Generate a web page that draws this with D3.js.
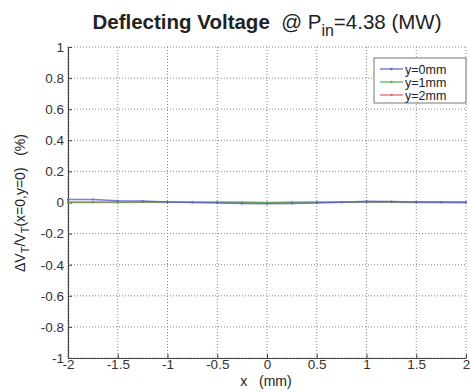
<!DOCTYPE html>
<html>
<head>
<meta charset="utf-8">
<script src="https://cdn.jsdelivr.net/npm/d3@7"></script>
<style>
  body { margin: 0; background: #fff; }
  svg text { font-family: "Liberation Sans", Arial, sans-serif; fill: #222; }
</style>
</head>
<body>
<div id="chart"></div>
<script>
// x positions (mm)
var xs = [-2, -1.75, -1.5, -1.25, -1, -0.75, -0.5, -0.25, 0, 0.25, 0.5, 0.75, 1, 1.25, 1.5, 1.75, 2];
// dV/V (%) for each y offset
var y0mm = [0.02, 0.02, 0.012, 0.01, 0.004, 0.0, -0.004, -0.006, -0.008, -0.006, -0.004, 0.002, 0.008, 0.006, 0.003, 0.001, 0.0];
var y1mm = [0.004, 0.004, 0.003, 0.003, 0.002, 0.002, 0.001, 0.001, 0.0, 0.001, 0.002, 0.003, 0.004, 0.003, 0.003, 0.003, 0.003];
var y2mm = [0.0, 0.0, 0.0, 0.001, 0.002, 0.002, 0.001, 0.0, -0.001, 0.0, 0.001, 0.002, 0.002, 0.001, 0.0, 0.0, 0.0];
var seriesNames = ["y=0mm", "y=1mm", "y=2mm"];
var seriesColors = ["#5a5ad8", "#4fae4f", "#e06060"];
var xTicks = [-2, -1.5, -1, -0.5, 0, 0.5, 1, 1.5, 2];
var yTicks = [-1, -0.8, -0.6, -0.4, -0.2, 0, 0.2, 0.4, 0.6, 0.8, 1];

var W = 470, H = 392;
var pL = 68, pR = 466, pT = 47, pB = 358;

var svg = d3.select("#chart").append("svg").attr("width", W).attr("height", H);

var x = d3.scaleLinear().domain([-2, 2]).range([pL, pR]);
var y = d3.scaleLinear().domain([-1, 1]).range([pB, pT]);

// grid
svg.append("g").selectAll("line").data(xTicks).enter().append("line")
  .attr("x1", function(d){ return x(d); }).attr("x2", function(d){ return x(d); })
  .attr("y1", pT).attr("y2", pB)
  .style("stroke", "#888").style("stroke-width", 1).style("stroke-dasharray", "1,2");
svg.append("g").selectAll("line").data(yTicks).enter().append("line")
  .attr("x1", pL).attr("x2", pR)
  .attr("y1", function(d){ return y(d); }).attr("y2", function(d){ return y(d); })
  .style("stroke", "#888").style("stroke-width", 1).style("stroke-dasharray", "1,2");

// axes
var xAxis = d3.axisBottom(x).tickValues(xTicks).tickSizeInner(-4).tickSizeOuter(0).tickPadding(3)
  .tickFormat(function(d){ return String(d); });
var gx = svg.append("g").attr("transform", "translate(0," + pB + ")").call(xAxis);
var yAxis = d3.axisLeft(y).tickValues(yTicks).tickSizeInner(-4).tickSizeOuter(0).tickPadding(4)
  .tickFormat(function(d){ return String(Math.round(d * 10) / 10); });
var gy = svg.append("g").attr("transform", "translate(" + pL + ",0)").call(yAxis);
[gx, gy].forEach(function(g){
  g.select(".domain").style("stroke", "#444").style("stroke-width", 1.2);
  g.selectAll(".tick line").style("stroke", "#444");
  g.selectAll("text").style("font-size", "13.5px").style("fill", "#333");
});
gx.selectAll(".tick text").attr("dy", "0.6em");

// series
var allSeries = [y0mm, y1mm, y2mm];
var line = d3.line().x(function(d, i){ return x(xs[i]); }).y(function(d){ return y(d); });
[2, 1, 0].forEach(function(k){
  svg.append("path").datum(allSeries[k]).attr("d", line)
    .style("fill", "none").style("stroke", seriesColors[k]).style("stroke-width", 1.5).style("opacity", 0.8);
  svg.append("g").selectAll("circle").data(allSeries[k]).enter().append("circle")
    .attr("cx", function(d, i){ return x(xs[i]); }).attr("cy", function(d){ return y(d); })
    .attr("r", 1).style("fill", seriesColors[k]);
});

// legend
var lg = svg.append("g");
lg.append("rect").attr("x", 374).attr("y", 58).attr("width", 92).attr("height", 45)
  .style("fill", "#fff").style("stroke", "#777").style("stroke-width", 1);
seriesNames.forEach(function(n, i){
  var ly = 69 + i * 13;
  lg.append("line").attr("x1", 380).attr("x2", 403).attr("y1", ly).attr("y2", ly)
    .style("stroke", seriesColors[i]).style("stroke-width", 1.2);
  lg.append("circle").attr("cx", 391.5).attr("cy", ly).attr("r", 1.2).style("fill", seriesColors[i]);
  lg.append("text").attr("x", 405).attr("y", ly + 4.5).style("font-size", "12.5px").text(n);
});

// title
var t = svg.append("text").attr("x", 267).attr("y", 29).attr("text-anchor", "middle")
  .style("font-size", "20.5px").attr("xml:space", "preserve");
t.append("tspan").style("font-weight", "bold").text("Deflecting Voltage");
t.append("tspan").text("  @ P");
t.append("tspan").attr("dy", 7).style("font-size", "16px").text("in");
t.append("tspan").attr("dy", -7).text("=4.38 (MW)");

// x label
svg.append("text").attr("x", 266).attr("y", 386).attr("text-anchor", "middle")
  .style("font-size", "14px").attr("xml:space", "preserve").text("x   (mm)");

// y label
var yl = svg.append("text").attr("transform", "translate(25,203) rotate(-90)")
  .attr("text-anchor", "middle").style("font-size", "14px").attr("xml:space", "preserve");
yl.append("tspan").text("\u0394V");
yl.append("tspan").attr("dy", 4).style("font-size", "11px").text("T");
yl.append("tspan").attr("dy", -4).text("/V");
yl.append("tspan").attr("dy", 4).style("font-size", "11px").text("T");
yl.append("tspan").attr("dy", -4).text("(x=0,y=0)   (%)");
</script>
</body>
</html>
